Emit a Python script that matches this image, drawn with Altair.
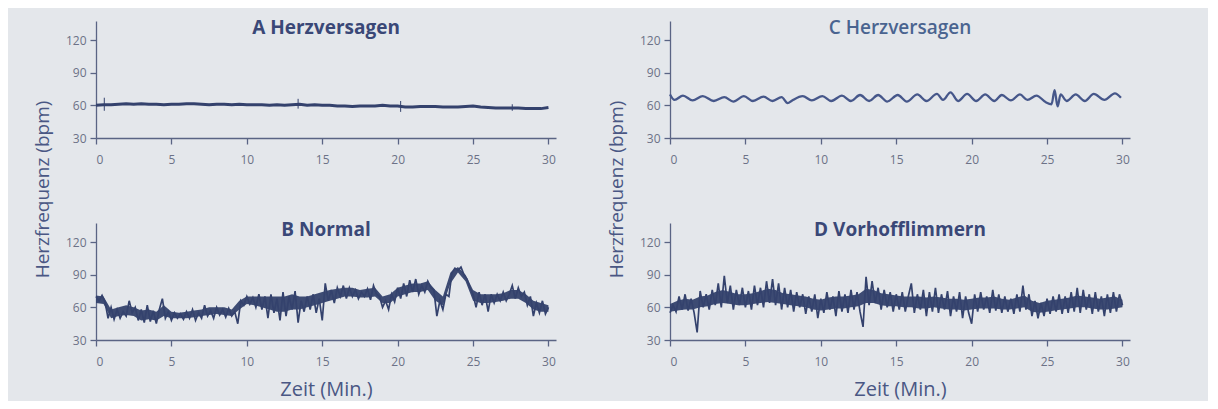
import altair as alt
import pandas as pd

# ---------------- data ----------------
X_TICKS = [0, 5, 10, 15, 20, 25, 30]
Y_TICKS = [30, 60, 90, 120]

# A Herzversagen: value every 0.5 min
A_STEP = 0.5
A_vals = [60, 60.5, 60.5, 61, 61.5, 61, 61.5, 61, 61, 60.5,
          61, 61, 61.5, 61.5, 61, 60.5, 61, 61, 60.5, 61,
          60.5, 60.5, 60.5, 60, 60.5, 60, 60.5, 61, 60, 60.5,
          60, 60, 59.5, 59.5, 59, 59.5, 59.5, 59.5, 60, 59.5,
          59.5, 58.5, 58.5, 59, 59, 59, 58.5, 58.5, 58.5, 59,
          59.5, 58.5, 58, 57.5, 57.5, 57.5, 57.5, 57, 57, 57, 58]
A_spike_t = [0.55, 13.4, 20.2, 27.6]
A_spike_lo = [55, 57, 54, 55]
A_spike_hi = [67, 66, 64, 61]

# B Normal and D Vorhofflimmern: beat-to-beat trace, value every 0.2 min
BD_STEP = 0.2
B_vals = [70, 66, 71, 65, 50, 60, 49, 58, 50, 56,
          52, 66, 55, 60, 48, 58, 46, 62, 47, 57,
          45, 58, 68, 50, 56, 48, 55, 50, 54, 49,
          56, 50, 58, 48, 55, 50, 62, 52, 57, 50,
          60, 53, 58, 51, 59, 52, 56, 45, 66, 62,
          70, 63, 69, 60, 72, 58, 70, 50, 72, 55,
          68, 48, 74, 52, 70, 58, 75, 46, 66, 56,
          70, 58, 72, 55, 68, 48, 82, 66, 76, 64,
          78, 70, 80, 68, 78, 70, 76, 68, 74, 70,
          77, 67, 80, 72, 70, 60, 66, 58, 72, 65,
          78, 68, 82, 70, 85, 74, 86, 72, 80, 74,
          84, 78, 76, 52, 66, 58, 72, 70, 92, 96,
          94, 97, 90, 86, 78, 72, 60, 74, 62, 72,
          56, 72, 64, 72, 66, 74, 66, 72, 80, 68,
          78, 70, 74, 62, 70, 52, 64, 55, 66, 54, 60]
D_vals = [55, 62, 56, 70, 58, 72, 57, 68, 55, 37,
          75, 60, 72, 58, 76, 62, 82, 60, 89, 64,
          80, 58, 76, 62, 78, 60, 75, 58, 80, 62,
          78, 60, 84, 64, 86, 62, 82, 58, 78, 60,
          76, 56, 74, 60, 72, 54, 70, 56, 72, 50,
          68, 55, 74, 58, 70, 52, 75, 56, 72, 55,
          76, 58, 74, 56, 42, 88, 62, 84, 64, 78,
          58, 76, 60, 74, 56, 72, 58, 74, 56, 70,
          82, 55, 72, 58, 76, 52, 74, 56, 78, 55,
          72, 58, 75, 52, 70, 56, 74, 50, 70, 55,
          45, 72, 56, 74, 58, 70, 55, 76, 57, 72,
          55, 70, 56, 68, 54, 72, 56, 80, 58, 72,
          52, 66, 50, 64, 52, 68, 54, 70, 56, 72,
          54, 70, 55, 74, 56, 78, 55, 76, 58, 72,
          54, 74, 56, 70, 52, 72, 55, 74, 56, 72, 62]

# dense core of the B and D traces: low / high edge every 0.5 min
BAND_STEP = 0.5
B_lo = [64, 63, 50, 52, 53, 52, 48, 49, 48, 52,
        50, 50, 50, 51, 52, 53, 54, 53, 52, 58,
        63, 62, 60, 58, 56, 56, 58, 58, 60, 62,
        64, 66, 68, 70, 70, 69, 69, 70, 64, 64,
        70, 72, 74, 74, 76, 66, 62, 82, 92, 84,
        66, 64, 64, 65, 66, 68, 68, 64, 58, 56, 56]
B_hi = [71, 70, 58, 60, 62, 60, 57, 58, 56, 62,
        56, 55, 56, 57, 58, 60, 60, 60, 58, 66,
        70, 70, 70, 70, 70, 70, 72, 70, 70, 72,
        74, 76, 77, 78, 78, 76, 77, 78, 70, 72,
        78, 80, 82, 82, 84, 76, 70, 92, 97, 90,
        76, 72, 72, 72, 73, 76, 76, 72, 66, 64, 62]
D_lo = [56, 57, 58, 58, 60, 61, 63, 64, 63, 62,
        62, 63, 64, 65, 64, 63, 62, 61, 60, 58,
        57, 58, 59, 59, 60, 61, 64, 64, 62, 61,
        61, 60, 60, 59, 59, 60, 59, 58, 58, 57,
        58, 59, 59, 59, 58, 58, 59, 60, 56, 55,
        56, 57, 58, 59, 60, 60, 59, 58, 58, 59, 60]
D_hi = [63, 66, 68, 67, 70, 71, 74, 76, 74, 72,
        72, 73, 75, 77, 76, 73, 72, 71, 70, 68,
        67, 69, 70, 70, 71, 72, 77, 76, 73, 72,
        71, 70, 70, 70, 69, 70, 69, 68, 68, 67,
        68, 69, 69, 70, 68, 67, 69, 71, 66, 64,
        66, 67, 68, 69, 71, 70, 69, 68, 69, 70, 67]

# C Herzversagen: turning points (time in min, bpm)
C_t = [0, 0.3, 0.86, 1.5, 2.17, 2.9, 3.6, 4.2, 4.9, 5.5,
       6.2, 6.8, 7.4, 7.8, 8.1, 8.8, 9.4, 10.1, 10.7, 11.4,
       12.0, 12.6, 13.2, 13.8, 14.4, 15.1, 15.7, 16.4, 17.0, 17.7,
       18.1, 18.6, 19.1, 19.7, 20.3, 20.9, 21.5, 22.0, 22.6, 23.2,
       23.7, 24.3, 24.9, 25.3, 25.5, 25.7, 25.9, 26.3, 26.9, 27.5,
       28.1, 28.8, 29.5, 29.9]
C_v = [70, 65, 69, 64.5, 68.5, 64, 67.5, 63.5, 68.5, 64,
       68, 64, 67.5, 62, 64.5, 68.5, 64.5, 68.5, 64, 69,
       64, 69.5, 64, 69.5, 63.5, 69.5, 63.5, 70, 64, 70.5,
       65, 72, 64, 70.5, 64, 70, 64, 69.5, 64.5, 70,
       65, 69, 63, 61, 74, 59, 70, 64, 70, 64,
       70.5, 65, 71, 67]

# ---------------- tables ----------------
dfA = pd.DataFrame({"t": [i * A_STEP for i in range(len(A_vals))], "v": A_vals})
dfA_sp = pd.DataFrame({"t": A_spike_t, "v": A_spike_lo, "hi": A_spike_hi})
dfB = pd.DataFrame({"t": [i * BD_STEP for i in range(len(B_vals))], "v": B_vals})
dfD = pd.DataFrame({"t": [i * BD_STEP for i in range(len(D_vals))], "v": D_vals})
dfBb = pd.DataFrame({"t": [i * BAND_STEP for i in range(len(B_lo))], "v": B_lo, "hi": B_hi})
dfDb = pd.DataFrame({"t": [i * BAND_STEP for i in range(len(D_lo))], "v": D_lo, "hi": D_hi})
dfC = pd.DataFrame({"t": C_t, "v": C_v})

# ---------------- styling ----------------
BG = "#e4e7eb"
LINE = "#34426d"
AXIS = "#5a6484"
LABEL = "#6c7287"
TITLE = "#3a4877"
YT = "#4a5784"
FONT = "Open Sans"
W, H = 460, 117
XDOM = [0, 30.5]
YDOM = [30, 137.5]


def xenc(xtitle=None):
    return alt.X("t:Q", scale=alt.Scale(domain=XDOM, nice=False, zero=False),
                 axis=alt.Axis(values=X_TICKS, title=xtitle, titleFontSize=20,
                               titleFont=FONT, titleFontWeight="normal",
                               titleColor=YT, titlePadding=12, labelPadding=10))


def yenc(ytitle=None):
    return alt.Y("v:Q", scale=alt.Scale(domain=YDOM, nice=False, zero=False),
                 axis=alt.Axis(values=Y_TICKS, title=ytitle, titleY=168,
                               titleFontSize=19, titleFont=FONT,
                               titleFontWeight="normal", titleColor=YT,
                               titlePadding=13, labelPadding=4))


def ttl(text, weight="bold", color=TITLE):
    return alt.TitleParams(text=text, offset=-17, fontSize=19, font=FONT,
                           fontWeight=weight, color=color, anchor="middle")


def trace(df_line, df_band, xtitle, title):
    band = alt.Chart(df_band).mark_area(color=LINE, opacity=0.95).encode(
        x=xenc(xtitle), y=yenc(), y2="hi:Q")
    line = alt.Chart(df_line).mark_line(color=LINE, strokeWidth=1.7).encode(
        x=xenc(xtitle), y=yenc())
    return alt.layer(band, line).properties(width=W, height=H, title=ttl(title))


YLAB = "Herzfrequenz (bpm)"

A_line = alt.Chart(dfA).mark_line(color=LINE, strokeWidth=3).encode(
    x=xenc(), y=yenc(YLAB))
A_sp = alt.Chart(dfA_sp).mark_rule(color=LINE, strokeWidth=1).encode(
    x=xenc(), y=yenc(YLAB), y2="hi:Q")
A = alt.layer(A_line, A_sp).properties(width=W, height=H, title=ttl("A Herzversagen"))

B = trace(dfB, dfBb, "Zeit (Min.)", "B Normal")

C = alt.Chart(dfC).mark_line(color="#46578a", strokeWidth=2.3, interpolate="monotone").encode(
    x=xenc(), y=yenc(YLAB)).properties(
    width=W, height=H, title=ttl("C Herzversagen", weight=600, color="#4a6490"))

D = trace(dfD, dfDb, "Zeit (Min.)", "D Vorhofflimmern")

chart = alt.concat(A, C, B, D, columns=2, spacing={"row": 85, "column": 114},
                   bounds="flush").properties(
    background=BG,
    padding={"left": 25, "top": 11, "right": 78, "bottom": 2},
).configure_view(stroke=None).configure_axis(
    grid=False, domainColor=AXIS, tickColor=AXIS, domainWidth=1.3, tickWidth=1.3,
    tickSize=6, labelColor=LABEL, labelFont=FONT, labelFontSize=12,
)

chart.save("out.html", embed_options={"renderer": "svg", "actions": False})
